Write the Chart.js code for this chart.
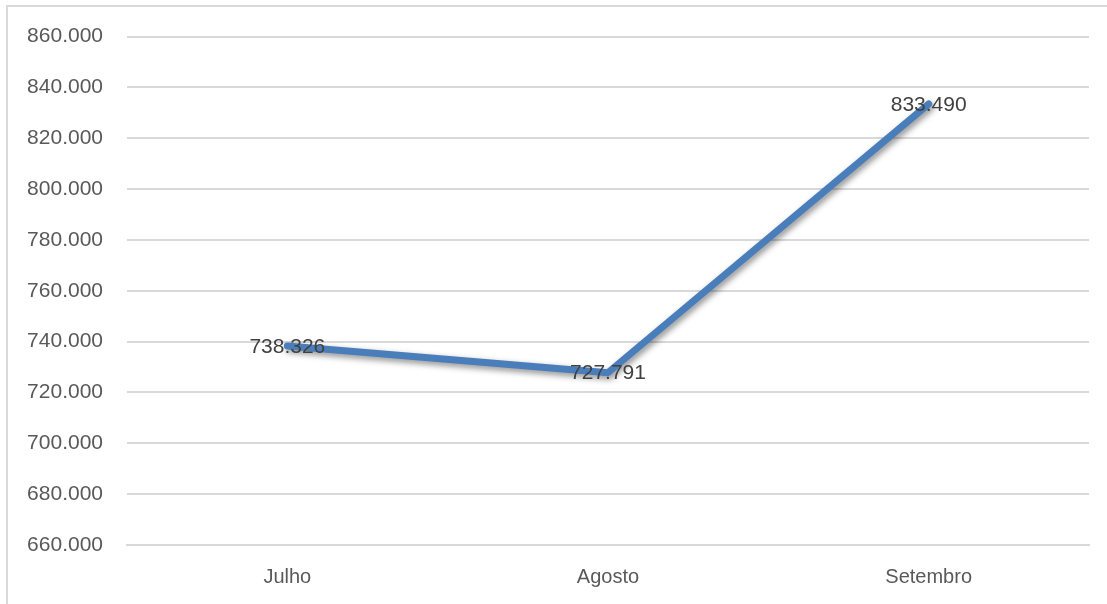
<!DOCTYPE html>
<html>
<head>
<meta charset="utf-8">
<script src="https://cdn.jsdelivr.net/npm/chart.js@4"></script>
<style>
  html, body { margin: 0; padding: 0; background: #fff; overflow: hidden; }
  #frame { position: absolute; left: 6px; top: 5px; width: 1110px; height: 610px; border: 2px solid #d9d9d9; box-sizing: border-box; }
  #wrap { position: absolute; left: 0; top: 0; width: 1107px; height: 604px; }
</style>
</head>
<body>
<div id="frame"></div>
<div id="wrap"><canvas id="myChart" width="1107" height="604"></canvas></div>
<script>
  const months = ['Julho', 'Agosto', 'Setembro'];
  const totals = [738326, 727791, 833490];
  const yMin = 660000;
  const yMax = 860000;
  const yStep = 20000;

  // 738326 -> "738.326"
  function fmt(v) {
    return String(Math.round(v)).replace(/\B(?=(\d{3})+(?!\d))/g, '.');
  }

  const lineShadow = {
    id: 'lineShadow',
    beforeDatasetDraw(chart) {
      const ctx = chart.ctx;
      ctx.save();
      ctx.shadowColor = 'rgba(0,0,0,0.45)';
      ctx.shadowBlur = 6;
      ctx.shadowOffsetX = 2;
      ctx.shadowOffsetY = 3;
    },
    afterDatasetDraw(chart) {
      chart.ctx.restore();
    }
  };

  const valueLabels = {
    id: 'valueLabels',
    afterDatasetsDraw(chart) {
      const ctx = chart.ctx;
      const meta = chart.getDatasetMeta(0);
      ctx.save();
      ctx.font = '21px "Liberation Sans", Arial, sans-serif';
      ctx.fillStyle = '#404040';
      ctx.textAlign = 'center';
      ctx.textBaseline = 'middle';
      meta.data.forEach((pt, i) => {
        ctx.fillText(fmt(totals[i]), pt.x, pt.y + 1);
      });
      ctx.restore();
    }
  };

  const ctx = document.getElementById('myChart').getContext('2d');
  new Chart(ctx, {
    type: 'line',
    data: {
      labels: months,
      datasets: [{
        data: totals,
        borderColor: '#4a7ebb',
        borderWidth: 7,
        borderCapStyle: 'round',
        borderJoinStyle: 'round',
        pointRadius: 0,
        tension: 0,
        fill: false
      }]
    },
    options: {
      responsive: false,
      animation: false,
      layout: { padding: { top: 35, right: 18, left: 0, bottom: 0 } },
      plugins: { legend: { display: false }, tooltip: { enabled: false } },
      scales: {
        x: {
          offset: true,
          grid: { display: false, drawTicks: false },
          border: { display: true, color: '#d9d9d9', width: 2 },
          ticks: { color: '#595959', padding: 20, font: { family: '"Liberation Sans", Arial, sans-serif', size: 20 } },
          afterFit(scale) { scale.height = 59; }
        },
        y: {
          min: yMin,
          max: yMax,
          grid: { color: '#d9d9d9', lineWidth: 2, drawTicks: false },
          border: { display: false },
          ticks: {
            stepSize: yStep,
            color: '#595959',
            padding: 24,
            font: { family: '"Liberation Sans", Arial, sans-serif', size: 21 },
            callback: v => fmt(v)
          },
          afterFit(scale) { scale.width = 127; }
        }
      }
    },
    plugins: [lineShadow, valueLabels]
  });
</script>
</body>
</html>
